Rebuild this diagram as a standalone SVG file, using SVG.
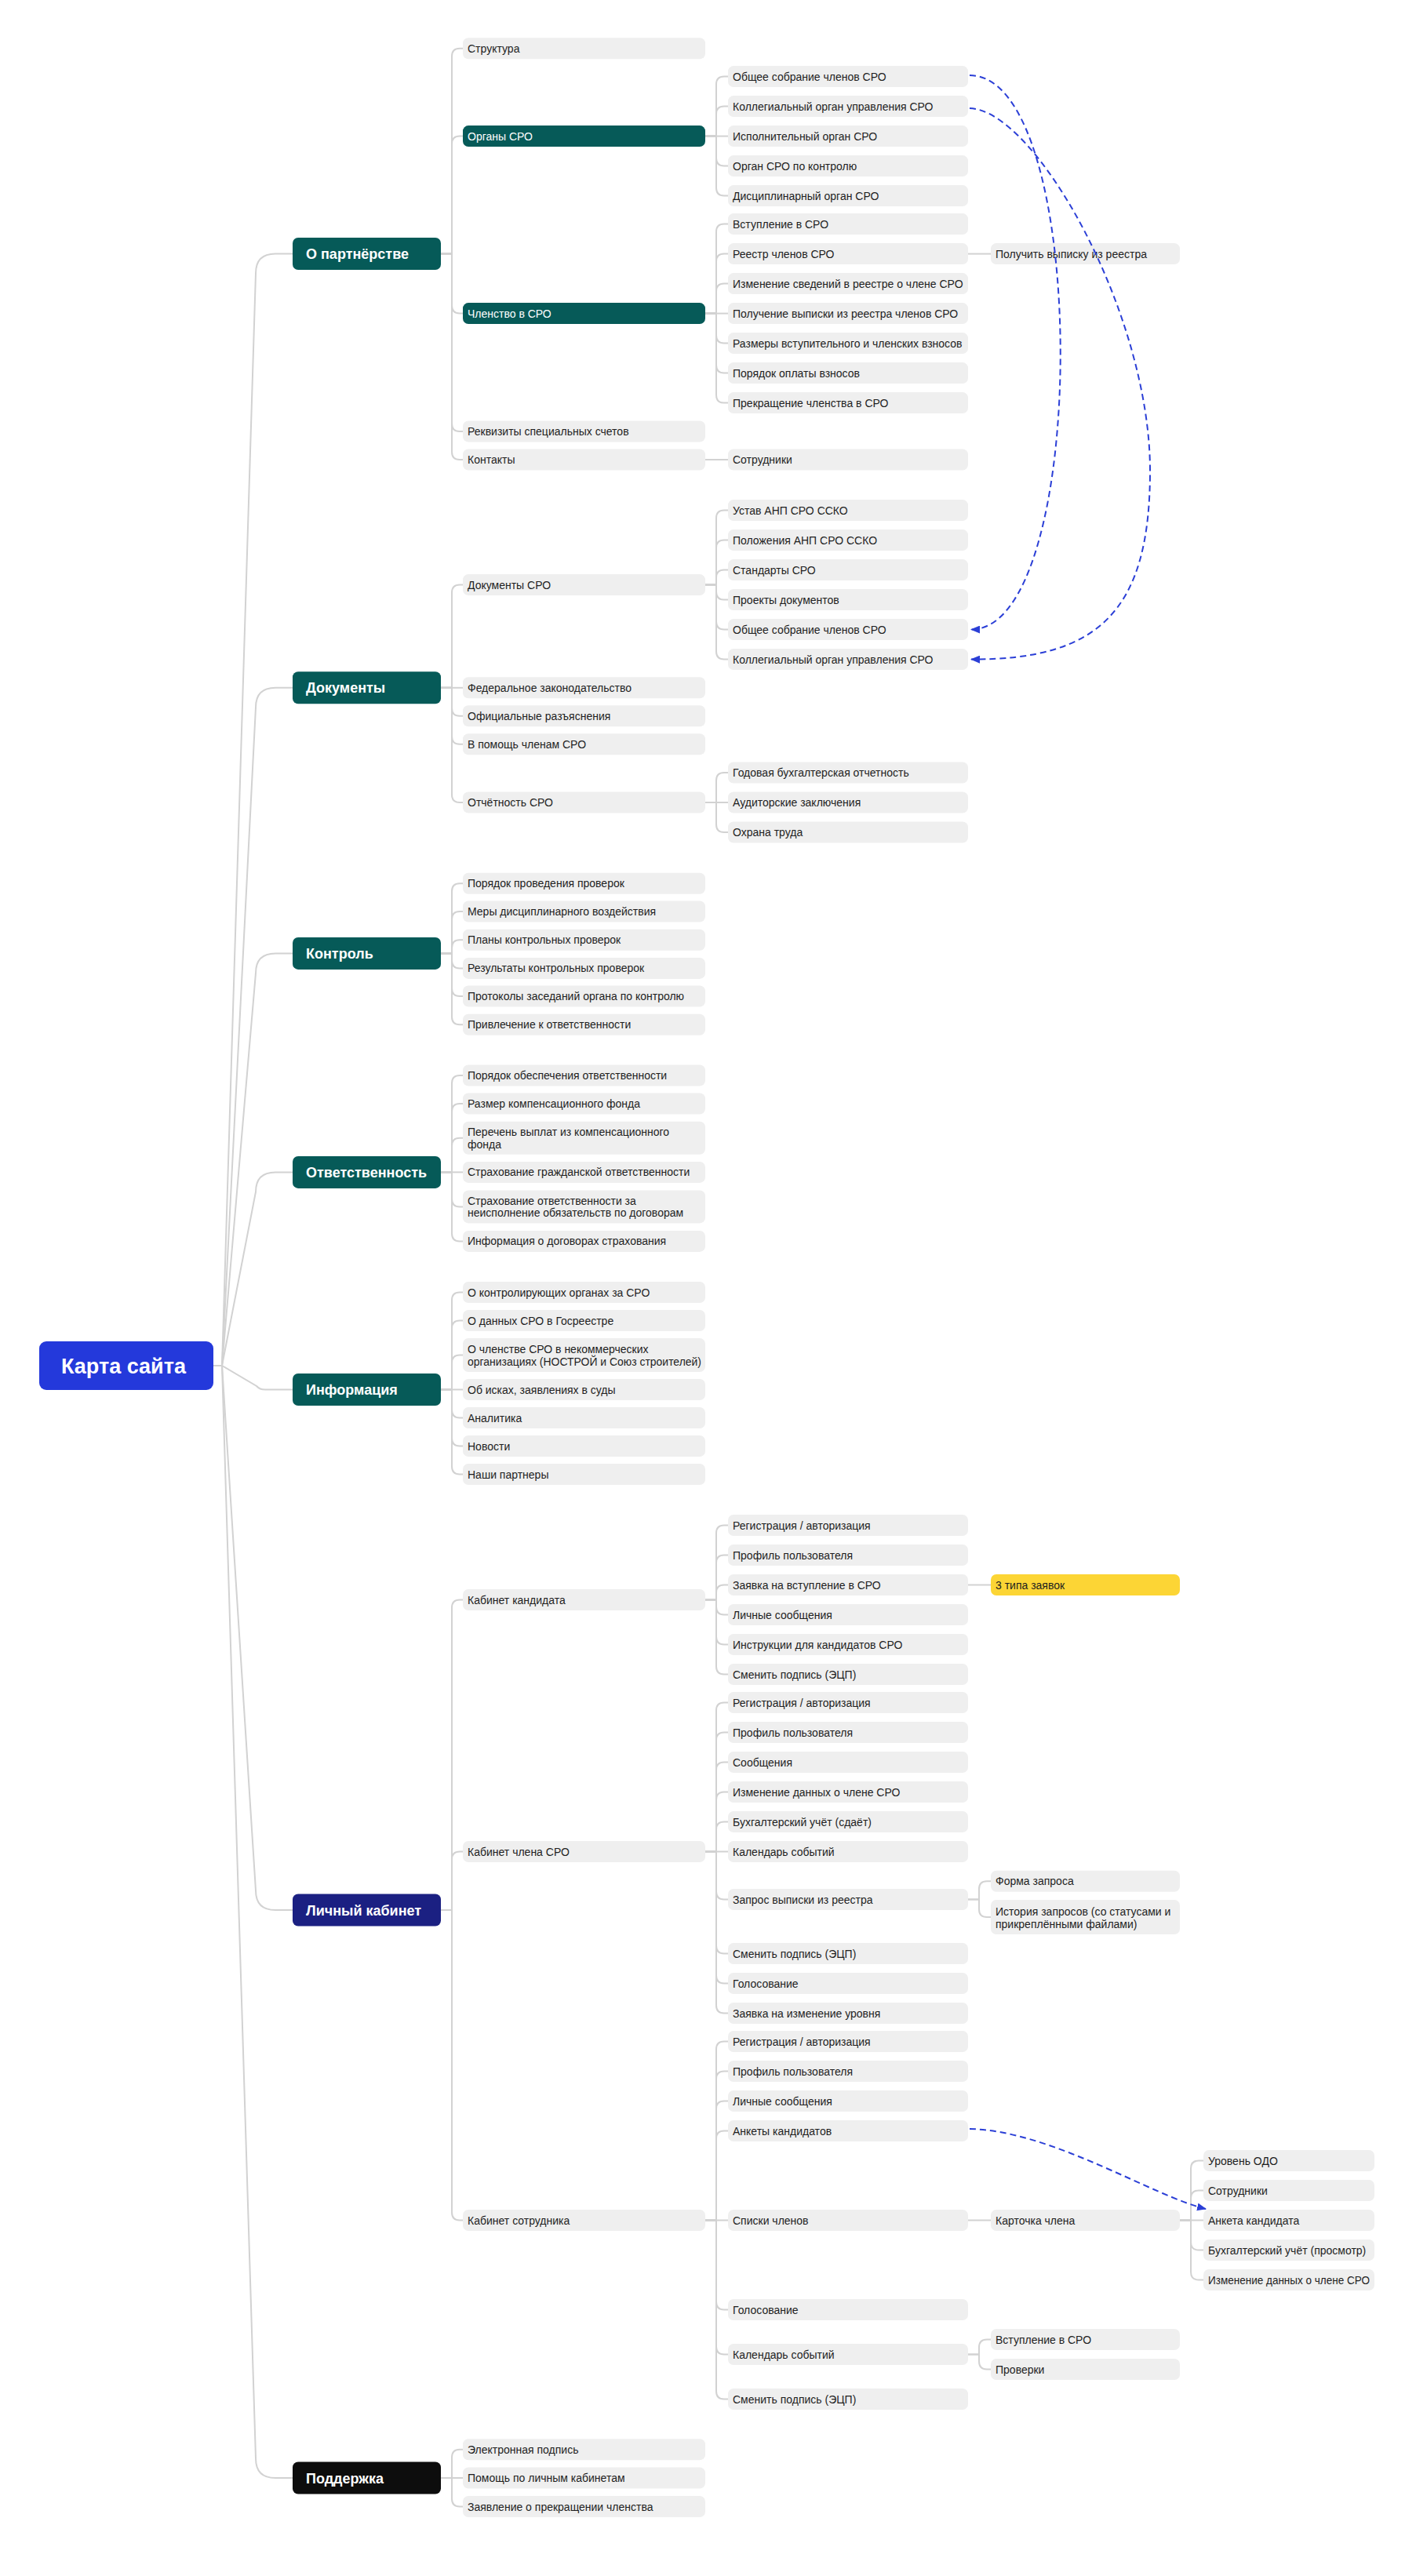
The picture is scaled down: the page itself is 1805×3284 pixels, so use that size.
<svg xmlns="http://www.w3.org/2000/svg" width="1805" height="3284" viewBox="0 0 1805 3284">
<defs>
<style>
.b{fill:#EFEFEF}
.g{fill:#065A58}
.y{fill:#FCD535}
.t{font-family:"Liberation Sans",Arial,sans-serif;font-size:14px;fill:#1E1E1E}
.tw{font-family:"Liberation Sans",Arial,sans-serif;font-size:14px;fill:#FFFFFF}
.h{font-family:"Liberation Sans",Arial,sans-serif;font-size:18px;font-weight:700;fill:#FFFFFF}
.e{fill:none;stroke:#D2D2D2;stroke-width:2}
.d{fill:none;stroke:#2B3FD6;stroke-width:2;stroke-dasharray:8 5}
</style>
<marker id="ah" markerUnits="userSpaceOnUse" markerWidth="12" markerHeight="10" refX="11" refY="5" orient="auto"><path d="M0,0 L12,5 L0,10 z" fill="#2B3FD6"/></marker>
</defs>
<rect width="1805" height="3284" fill="#FFFFFF"/>

<g id="connectors">
<path class="e" d="M272 1741H283L326 348.5Q326 323.5 351 323.5H373"/>
<path class="e" d="M272 1741H283L326 901.8Q326 876.8 351 876.8H373"/>
<path class="e" d="M272 1741H283L326 1240.4Q326 1215.4 351 1215.4H373"/>
<path class="e" d="M272 1741H283L326 1519.4Q326 1494.4 351 1494.4H373"/>
<path class="e" d="M272 1741H283L327 1767Q331 1771.5 338 1771.5H373"/>
<path class="e" d="M272 1741H283L326 2410Q326 2435 351 2435H373"/>
<path class="e" d="M272 1741H283L326 3134Q326 3159 351 3159H373"/>
<path class="e" d="M562 323.5H576V71.7Q576 61.7 586 61.7H590"/>
<path class="e" d="M562 323.5H576V183.6Q576 173.6 586 173.6H590"/>
<path class="e" d="M562 323.5H576V389.6Q576 399.6 586 399.6H590"/>
<path class="e" d="M562 323.5H576V540Q576 550 586 550H590"/>
<path class="e" d="M562 323.5H576V576Q576 586 586 586H590"/>
<path class="e" d="M562 876.8H576V755.6Q576 745.6 586 745.6H590"/>
<path class="e" d="M562 876.8H590"/>
<path class="e" d="M562 876.8H576V902.8Q576 912.8 586 912.8H590"/>
<path class="e" d="M562 876.8H576V938.8Q576 948.8 586 948.8H590"/>
<path class="e" d="M562 876.8H576V1013Q576 1023 586 1023H590"/>
<path class="e" d="M562 1215.4H576V1136.3Q576 1126.3 586 1126.3H590"/>
<path class="e" d="M562 1215.4H576V1172Q576 1162 586 1162H590"/>
<path class="e" d="M562 1215.4H576V1208.2Q576 1198.2 586 1198.2H590"/>
<path class="e" d="M562 1215.4H576V1224.4Q576 1234.4 586 1234.4H590"/>
<path class="e" d="M562 1215.4H576V1260Q576 1270 586 1270H590"/>
<path class="e" d="M562 1215.4H576V1296.2Q576 1306.2 586 1306.2H590"/>
<path class="e" d="M562 1494.4H576V1381Q576 1371 586 1371H590"/>
<path class="e" d="M562 1494.4H576V1417Q576 1407 586 1407H590"/>
<path class="e" d="M562 1494.4H576V1460.7Q576 1450.7 586 1450.7H590"/>
<path class="e" d="M562 1494.4H590"/>
<path class="e" d="M562 1494.4H576V1528.4Q576 1538.4 586 1538.4H590"/>
<path class="e" d="M562 1494.4H576V1572.4Q576 1582.4 586 1582.4H590"/>
<path class="e" d="M562 1771.5H576V1657.5Q576 1647.5 586 1647.5H590"/>
<path class="e" d="M562 1771.5H576V1693.5Q576 1683.5 586 1683.5H590"/>
<path class="e" d="M562 1771.5H576V1737.5Q576 1727.5 586 1727.5H590"/>
<path class="e" d="M562 1771.5H590"/>
<path class="e" d="M562 1771.5H576V1797.5Q576 1807.5 586 1807.5H590"/>
<path class="e" d="M562 1771.5H576V1833.5Q576 1843.5 586 1843.5H590"/>
<path class="e" d="M562 1771.5H576V1869.5Q576 1879.5 586 1879.5H590"/>
<path class="e" d="M562 2435H576V2049.5Q576 2039.5 586 2039.5H590"/>
<path class="e" d="M562 2435H576V2370.5Q576 2360.5 586 2360.5H590"/>
<path class="e" d="M562 2435H576V2820.5Q576 2830.5 586 2830.5H590"/>
<path class="e" d="M562 3159H576V3132.8Q576 3122.8 586 3122.8H590"/>
<path class="e" d="M562 3159H590"/>
<path class="e" d="M562 3159H576V3185.5Q576 3195.5 586 3195.5H590"/>
<path class="e" d="M899 173.6H913V107.6Q913 97.6 923 97.6H928"/>
<path class="e" d="M899 173.6H913V145.6Q913 135.6 923 135.6H928"/>
<path class="e" d="M899 173.6H928"/>
<path class="e" d="M899 173.6H913V201.6Q913 211.6 923 211.6H928"/>
<path class="e" d="M899 173.6H913V239.6Q913 249.6 923 249.6H928"/>
<path class="e" d="M899 399.6H913V295.6Q913 285.6 923 285.6H928"/>
<path class="e" d="M899 399.6H913V333.6Q913 323.6 923 323.6H928"/>
<path class="e" d="M899 399.6H913V371.6Q913 361.6 923 361.6H928"/>
<path class="e" d="M899 399.6H928"/>
<path class="e" d="M899 399.6H913V427.6Q913 437.6 923 437.6H928"/>
<path class="e" d="M899 399.6H913V465.6Q913 475.6 923 475.6H928"/>
<path class="e" d="M899 399.6H913V503.6Q913 513.6 923 513.6H928"/>
<path class="e" d="M899 586H928"/>
<path class="e" d="M899 745.6H913V660.6Q913 650.6 923 650.6H928"/>
<path class="e" d="M899 745.6H913V698.6Q913 688.6 923 688.6H928"/>
<path class="e" d="M899 745.6H913V736.6Q913 726.6 923 726.6H928"/>
<path class="e" d="M899 745.6H913V754.6Q913 764.6 923 764.6H928"/>
<path class="e" d="M899 745.6H913V792.6Q913 802.6 923 802.6H928"/>
<path class="e" d="M899 745.6H913V830.6Q913 840.6 923 840.6H928"/>
<path class="e" d="M899 1023H913V995Q913 985 923 985H928"/>
<path class="e" d="M899 1023H928"/>
<path class="e" d="M899 1023H913V1051Q913 1061 923 1061H928"/>
<path class="e" d="M899 2039.5H913V1954.5Q913 1944.5 923 1944.5H928"/>
<path class="e" d="M899 2039.5H913V1992.5Q913 1982.5 923 1982.5H928"/>
<path class="e" d="M899 2039.5H913V2030.5Q913 2020.5 923 2020.5H928"/>
<path class="e" d="M899 2039.5H913V2048.5Q913 2058.5 923 2058.5H928"/>
<path class="e" d="M899 2039.5H913V2086.5Q913 2096.5 923 2096.5H928"/>
<path class="e" d="M899 2039.5H913V2124.5Q913 2134.5 923 2134.5H928"/>
<path class="e" d="M899 2360.5H913V2180.5Q913 2170.5 923 2170.5H928"/>
<path class="e" d="M899 2360.5H913V2218.5Q913 2208.5 923 2208.5H928"/>
<path class="e" d="M899 2360.5H913V2256.5Q913 2246.5 923 2246.5H928"/>
<path class="e" d="M899 2360.5H913V2294.5Q913 2284.5 923 2284.5H928"/>
<path class="e" d="M899 2360.5H913V2332.5Q913 2322.5 923 2322.5H928"/>
<path class="e" d="M899 2360.5H928"/>
<path class="e" d="M899 2360.5H913V2411.5Q913 2421.5 923 2421.5H928"/>
<path class="e" d="M899 2360.5H913V2480.5Q913 2490.5 923 2490.5H928"/>
<path class="e" d="M899 2360.5H913V2518.5Q913 2528.5 923 2528.5H928"/>
<path class="e" d="M899 2360.5H913V2556.5Q913 2566.5 923 2566.5H928"/>
<path class="e" d="M899 2830.5H913V2612.5Q913 2602.5 923 2602.5H928"/>
<path class="e" d="M899 2830.5H913V2650.5Q913 2640.5 923 2640.5H928"/>
<path class="e" d="M899 2830.5H913V2688.5Q913 2678.5 923 2678.5H928"/>
<path class="e" d="M899 2830.5H913V2726.5Q913 2716.5 923 2716.5H928"/>
<path class="e" d="M899 2830.5H928"/>
<path class="e" d="M899 2830.5H913V2934.5Q913 2944.5 923 2944.5H928"/>
<path class="e" d="M899 2830.5H913V2991.5Q913 3001.5 923 3001.5H928"/>
<path class="e" d="M899 2830.5H913V3048.5Q913 3058.5 923 3058.5H928"/>
<path class="e" d="M1234 323.6H1263"/>
<path class="e" d="M1234 2020.5H1263"/>
<path class="e" d="M1234 2421.5H1248V2408.3Q1248 2398.3 1258 2398.3H1263"/>
<path class="e" d="M1234 2421.5H1248V2434Q1248 2444 1258 2444H1263"/>
<path class="e" d="M1234 2830.5H1263"/>
<path class="e" d="M1234 3001.5H1248V2992.5Q1248 2982.5 1258 2982.5H1263"/>
<path class="e" d="M1234 3001.5H1248V3010.5Q1248 3020.5 1258 3020.5H1263"/>
<path class="e" d="M1504 2830.5H1518V2764.5Q1518 2754.5 1528 2754.5H1534"/>
<path class="e" d="M1504 2830.5H1518V2802.5Q1518 2792.5 1528 2792.5H1534"/>
<path class="e" d="M1504 2830.5H1534"/>
<path class="e" d="M1504 2830.5H1518V2858.5Q1518 2868.5 1528 2868.5H1534"/>
<path class="e" d="M1504 2830.5H1518V2896.5Q1518 2906.5 1528 2906.5H1534"/>
</g>

<g id="n-root"><rect x="50" y="1710" width="222" height="62" rx="9" fill="#2439DB"/><text x="78" y="1750.5" font-family="Liberation Sans, Arial, sans-serif" font-size="27" font-weight="700" fill="#FFFFFF">Карта сайта</text></g>

<g id="n-partnership"><rect class="g" x="373" y="303" width="189" height="41" rx="7"/><text class="h" x="390" y="330">О партнёрстве</text></g>
<g id="n-docs"><rect class="g" x="373" y="856.3" width="189" height="41" rx="7"/><text class="h" x="390" y="883.3">Документы</text></g>
<g id="n-control"><rect class="g" x="373" y="1194.9" width="189" height="41" rx="7"/><text class="h" x="390" y="1221.9">Контроль</text></g>
<g id="n-resp"><rect class="g" x="373" y="1473.9" width="189" height="41" rx="7"/><text class="h" x="390" y="1500.9">Ответственность</text></g>
<g id="n-info"><rect class="g" x="373" y="1751" width="189" height="41" rx="7"/><text class="h" x="390" y="1778">Информация</text></g>
<g id="n-lk"><rect x="373" y="2414.5" width="189" height="41" rx="7" fill="#1B2082"/><text class="h" x="390" y="2441.5">Личный кабинет</text></g>
<g id="n-support"><rect x="373" y="3138.5" width="189" height="41" rx="7" fill="#0D0D0D"/><text class="h" x="390" y="3165.5">Поддержка</text></g>

<g id="n-structure"><rect class="b" x="590" y="48.2" width="309" height="27" rx="7"/><text class="t" x="596" y="66.7">Структура</text></g>
<g id="n-organs"><rect class="g" x="590" y="160.1" width="309" height="27" rx="7"/><text class="tw" x="596" y="178.6">Органы СРО</text></g>
<g id="n-membership"><rect class="g" x="590" y="386.1" width="309" height="27" rx="7"/><text class="tw" x="596" y="404.6">Членство в СРО</text></g>
<g id="n-requisites"><rect class="b" x="590" y="536.5" width="309" height="27" rx="7"/><text class="t" x="596" y="555">Реквизиты специальных счетов</text></g>
<g id="n-contacts"><rect class="b" x="590" y="572.5" width="309" height="27" rx="7"/><text class="t" x="596" y="591">Контакты</text></g>
<g id="n-docs-sro"><rect class="b" x="590" y="732.1" width="309" height="27" rx="7"/><text class="t" x="596" y="750.6">Документы СРО</text></g>
<g id="n-fed"><rect class="b" x="590" y="863.3" width="309" height="27" rx="7"/><text class="t" x="596" y="881.8">Федеральное законодательство</text></g>
<g id="n-official"><rect class="b" x="590" y="899.3" width="309" height="27" rx="7"/><text class="t" x="596" y="917.8">Официальные разъяснения</text></g>
<g id="n-help"><rect class="b" x="590" y="935.3" width="309" height="27" rx="7"/><text class="t" x="596" y="953.8">В помощь членам СРО</text></g>
<g id="n-report"><rect class="b" x="590" y="1009.5" width="309" height="27" rx="7"/><text class="t" x="596" y="1028">Отчётность СРО</text></g>
<g id="n-c1"><rect class="b" x="590" y="1112.8" width="309" height="27" rx="7"/><text class="t" x="596" y="1131.3">Порядок проведения проверок</text></g>
<g id="n-c2"><rect class="b" x="590" y="1148.5" width="309" height="27" rx="7"/><text class="t" x="596" y="1167">Меры дисциплинарного воздействия</text></g>
<g id="n-c3"><rect class="b" x="590" y="1184.7" width="309" height="27" rx="7"/><text class="t" x="596" y="1203.2">Планы контрольных проверок</text></g>
<g id="n-c4"><rect class="b" x="590" y="1220.9" width="309" height="27" rx="7"/><text class="t" x="596" y="1239.4">Результаты контрольных проверок</text></g>
<g id="n-c5"><rect class="b" x="590" y="1256.5" width="309" height="27" rx="7"/><text class="t" x="596" y="1275">Протоколы заседаний органа по контролю</text></g>
<g id="n-c6"><rect class="b" x="590" y="1292.7" width="309" height="27" rx="7"/><text class="t" x="596" y="1311.2">Привлечение к ответственности</text></g>
<g id="n-r1"><rect class="b" x="590" y="1357.5" width="309" height="27" rx="7"/><text class="t" x="596" y="1376">Порядок обеспечения ответственности</text></g>
<g id="n-r2"><rect class="b" x="590" y="1393.5" width="309" height="27" rx="7"/><text class="t" x="596" y="1412">Размер компенсационного фонда</text></g>
<g id="n-r3"><rect class="b" x="590" y="1429.7" width="309" height="42" rx="7"/><text class="t" x="596" y="1447.9">Перечень выплат из компенсационного</text><text class="t" x="596" y="1463.5">фонда</text></g>
<g id="n-r4"><rect class="b" x="590" y="1480.9" width="309" height="27" rx="7"/><text class="t" x="596" y="1499.4">Страхование гражданской ответственности</text></g>
<g id="n-r5"><rect class="b" x="590" y="1517.4" width="309" height="42" rx="7"/><text class="t" x="596" y="1535.6">Страхование ответственности за</text><text class="t" x="596" y="1551.2">неисполнение обязательств по договорам</text></g>
<g id="n-r6"><rect class="b" x="590" y="1568.9" width="309" height="27" rx="7"/><text class="t" x="596" y="1587.4">Информация о договорах страхования</text></g>
<g id="n-i1"><rect class="b" x="590" y="1634" width="309" height="27" rx="7"/><text class="t" x="596" y="1652.5">О контролирующих органах за СРО</text></g>
<g id="n-i2"><rect class="b" x="590" y="1670" width="309" height="27" rx="7"/><text class="t" x="596" y="1688.5">О данных СРО в Госреестре</text></g>
<g id="n-i3"><rect class="b" x="590" y="1706" width="309" height="43" rx="7"/><text class="t" x="596" y="1724.5">О членстве СРО в некоммерческих</text><text class="t" x="596" y="1740.5" textLength="298" lengthAdjust="spacingAndGlyphs">организациях (НОСТРОЙ и Союз строителей)</text></g>
<g id="n-i4"><rect class="b" x="590" y="1758" width="309" height="27" rx="7"/><text class="t" x="596" y="1776.5">Об исках, заявлениях в суды</text></g>
<g id="n-i5"><rect class="b" x="590" y="1794" width="309" height="27" rx="7"/><text class="t" x="596" y="1812.5">Аналитика</text></g>
<g id="n-i6"><rect class="b" x="590" y="1830" width="309" height="27" rx="7"/><text class="t" x="596" y="1848.5">Новости</text></g>
<g id="n-i7"><rect class="b" x="590" y="1866" width="309" height="27" rx="7"/><text class="t" x="596" y="1884.5">Наши партнеры</text></g>
<g id="n-cand"><rect class="b" x="590" y="2026" width="309" height="27" rx="7"/><text class="t" x="596" y="2044.5">Кабинет кандидата</text></g>
<g id="n-member"><rect class="b" x="590" y="2347" width="309" height="27" rx="7"/><text class="t" x="596" y="2365.5">Кабинет члена СРО</text></g>
<g id="n-staff"><rect class="b" x="590" y="2817" width="309" height="27" rx="7"/><text class="t" x="596" y="2835.5">Кабинет сотрудника</text></g>
<g id="n-s1"><rect class="b" x="590" y="3109.3" width="309" height="27" rx="7"/><text class="t" x="596" y="3127.8">Электронная подпись</text></g>
<g id="n-s2"><rect class="b" x="590" y="3145.5" width="309" height="27" rx="7"/><text class="t" x="596" y="3164">Помощь по личным кабинетам</text></g>
<g id="n-s3"><rect class="b" x="590" y="3182" width="309" height="27" rx="7"/><text class="t" x="596" y="3200.5">Заявление о прекращении членства</text></g>

<g id="n-o1"><rect class="b" x="928" y="84.1" width="306" height="27" rx="7"/><text class="t" x="934" y="102.6">Общее собрание членов СРО</text></g>
<g id="n-o2"><rect class="b" x="928" y="122.1" width="306" height="27" rx="7"/><text class="t" x="934" y="140.6">Коллегиальный орган управления СРО</text></g>
<g id="n-o3"><rect class="b" x="928" y="160.1" width="306" height="27" rx="7"/><text class="t" x="934" y="178.6">Исполнительный орган СРО</text></g>
<g id="n-o4"><rect class="b" x="928" y="198.1" width="306" height="27" rx="7"/><text class="t" x="934" y="216.6">Орган СРО по контролю</text></g>
<g id="n-o5"><rect class="b" x="928" y="236.1" width="306" height="27" rx="7"/><text class="t" x="934" y="254.6">Дисциплинарный орган СРО</text></g>
<g id="n-m1"><rect class="b" x="928" y="272.1" width="306" height="27" rx="7"/><text class="t" x="934" y="290.6">Вступление в СРО</text></g>
<g id="n-m2"><rect class="b" x="928" y="310.1" width="306" height="27" rx="7"/><text class="t" x="934" y="328.6">Реестр членов СРО</text></g>
<g id="n-m3"><rect class="b" x="928" y="348.1" width="306" height="27" rx="7"/><text class="t" x="934" y="366.6">Изменение сведений в реестре о члене СРО</text></g>
<g id="n-m4"><rect class="b" x="928" y="386.1" width="306" height="27" rx="7"/><text class="t" x="934" y="404.6">Получение выписки из реестра членов СРО</text></g>
<g id="n-m5"><rect class="b" x="928" y="424.1" width="306" height="27" rx="7"/><text class="t" x="934" y="442.6">Размеры вступительного и членских взносов</text></g>
<g id="n-m6"><rect class="b" x="928" y="462.1" width="306" height="27" rx="7"/><text class="t" x="934" y="480.6">Порядок оплаты взносов</text></g>
<g id="n-m7"><rect class="b" x="928" y="500.1" width="306" height="27" rx="7"/><text class="t" x="934" y="518.6">Прекращение членства в СРО</text></g>
<g id="n-staff1"><rect class="b" x="928" y="572.5" width="306" height="27" rx="7"/><text class="t" x="934" y="591">Сотрудники</text></g>
<g id="n-d1"><rect class="b" x="928" y="637.1" width="306" height="27" rx="7"/><text class="t" x="934" y="655.6">Устав АНП СРО ССКО</text></g>
<g id="n-d2"><rect class="b" x="928" y="675.1" width="306" height="27" rx="7"/><text class="t" x="934" y="693.6">Положения АНП СРО ССКО</text></g>
<g id="n-d3"><rect class="b" x="928" y="713.1" width="306" height="27" rx="7"/><text class="t" x="934" y="731.6">Стандарты СРО</text></g>
<g id="n-d4"><rect class="b" x="928" y="751.1" width="306" height="27" rx="7"/><text class="t" x="934" y="769.6">Проекты документов</text></g>
<g id="n-d5"><rect class="b" x="928" y="789.1" width="306" height="27" rx="7"/><text class="t" x="934" y="807.6">Общее собрание членов СРО</text></g>
<g id="n-d6"><rect class="b" x="928" y="827.1" width="306" height="27" rx="7"/><text class="t" x="934" y="845.6">Коллегиальный орган управления СРО</text></g>
<g id="n-rep1"><rect class="b" x="928" y="971.5" width="306" height="27" rx="7"/><text class="t" x="934" y="990">Годовая бухгалтерская отчетность</text></g>
<g id="n-rep2"><rect class="b" x="928" y="1009.5" width="306" height="27" rx="7"/><text class="t" x="934" y="1028">Аудиторские заключения</text></g>
<g id="n-rep3"><rect class="b" x="928" y="1047.5" width="306" height="27" rx="7"/><text class="t" x="934" y="1066">Охрана труда</text></g>
<g id="n-k1"><rect class="b" x="928" y="1931" width="306" height="27" rx="7"/><text class="t" x="934" y="1949.5">Регистрация / авторизация</text></g>
<g id="n-k2"><rect class="b" x="928" y="1969" width="306" height="27" rx="7"/><text class="t" x="934" y="1987.5">Профиль пользователя</text></g>
<g id="n-k3"><rect class="b" x="928" y="2007" width="306" height="27" rx="7"/><text class="t" x="934" y="2025.5">Заявка на вступление в СРО</text></g>
<g id="n-k4"><rect class="b" x="928" y="2045" width="306" height="27" rx="7"/><text class="t" x="934" y="2063.5">Личные сообщения</text></g>
<g id="n-k5"><rect class="b" x="928" y="2083" width="306" height="27" rx="7"/><text class="t" x="934" y="2101.5">Инструкции для кандидатов СРО</text></g>
<g id="n-k6"><rect class="b" x="928" y="2121" width="306" height="27" rx="7"/><text class="t" x="934" y="2139.5">Сменить подпись (ЭЦП)</text></g>
<g id="n-u1"><rect class="b" x="928" y="2157" width="306" height="27" rx="7"/><text class="t" x="934" y="2175.5">Регистрация / авторизация</text></g>
<g id="n-u2"><rect class="b" x="928" y="2195" width="306" height="27" rx="7"/><text class="t" x="934" y="2213.5">Профиль пользователя</text></g>
<g id="n-u3"><rect class="b" x="928" y="2233" width="306" height="27" rx="7"/><text class="t" x="934" y="2251.5">Сообщения</text></g>
<g id="n-u4"><rect class="b" x="928" y="2271" width="306" height="27" rx="7"/><text class="t" x="934" y="2289.5">Изменение данных о члене СРО</text></g>
<g id="n-u5"><rect class="b" x="928" y="2309" width="306" height="27" rx="7"/><text class="t" x="934" y="2327.5">Бухгалтерский учёт (сдаёт)</text></g>
<g id="n-u6"><rect class="b" x="928" y="2347" width="306" height="27" rx="7"/><text class="t" x="934" y="2365.5">Календарь событий</text></g>
<g id="n-u7"><rect class="b" x="928" y="2408" width="306" height="27" rx="7"/><text class="t" x="934" y="2426.5">Запрос выписки из реестра</text></g>
<g id="n-u8"><rect class="b" x="928" y="2477" width="306" height="27" rx="7"/><text class="t" x="934" y="2495.5">Сменить подпись (ЭЦП)</text></g>
<g id="n-u9"><rect class="b" x="928" y="2515" width="306" height="27" rx="7"/><text class="t" x="934" y="2533.5">Голосование</text></g>
<g id="n-u10"><rect class="b" x="928" y="2553" width="306" height="27" rx="7"/><text class="t" x="934" y="2571.5">Заявка на изменение уровня</text></g>
<g id="n-w1"><rect class="b" x="928" y="2589" width="306" height="27" rx="7"/><text class="t" x="934" y="2607.5">Регистрация / авторизация</text></g>
<g id="n-w2"><rect class="b" x="928" y="2627" width="306" height="27" rx="7"/><text class="t" x="934" y="2645.5">Профиль пользователя</text></g>
<g id="n-w3"><rect class="b" x="928" y="2665" width="306" height="27" rx="7"/><text class="t" x="934" y="2683.5">Личные сообщения</text></g>
<g id="n-w4"><rect class="b" x="928" y="2703" width="306" height="27" rx="7"/><text class="t" x="934" y="2721.5">Анкеты кандидатов</text></g>
<g id="n-w5"><rect class="b" x="928" y="2817" width="306" height="27" rx="7"/><text class="t" x="934" y="2835.5">Списки членов</text></g>
<g id="n-w6"><rect class="b" x="928" y="2931" width="306" height="27" rx="7"/><text class="t" x="934" y="2949.5">Голосование</text></g>
<g id="n-w7"><rect class="b" x="928" y="2988" width="306" height="27" rx="7"/><text class="t" x="934" y="3006.5">Календарь событий</text></g>
<g id="n-w8"><rect class="b" x="928" y="3045" width="306" height="27" rx="7"/><text class="t" x="934" y="3063.5">Сменить подпись (ЭЦП)</text></g>

<g id="n-getext"><rect class="b" x="1263" y="310.1" width="241" height="27" rx="7"/><text class="t" x="1269" y="328.6">Получить выписку из реестра</text></g>
<g id="n-3types"><rect class="y" x="1263" y="2007" width="241" height="27" rx="7"/><text class="t" x="1269" y="2025.5">3 типа заявок</text></g>
<g id="n-form"><rect class="b" x="1263" y="2384.8" width="241" height="27" rx="7"/><text class="t" x="1269" y="2403.3">Форма запроса</text></g>
<g id="n-history"><rect class="b" x="1263" y="2422" width="241" height="44" rx="7"/><text class="t" x="1269" y="2441.5">История запросов (со статусами и</text><text class="t" x="1269" y="2457.5">прикреплёнными файлами)</text></g>
<g id="n-card"><rect class="b" x="1263" y="2817" width="241" height="27" rx="7"/><text class="t" x="1269" y="2835.5">Карточка члена</text></g>
<g id="n-ev1"><rect class="b" x="1263" y="2969" width="241" height="27" rx="7"/><text class="t" x="1269" y="2987.5">Вступление в СРО</text></g>
<g id="n-ev2"><rect class="b" x="1263" y="3007" width="241" height="27" rx="7"/><text class="t" x="1269" y="3025.5">Проверки</text></g>

<g id="n-p1"><rect class="b" x="1534" y="2741" width="218" height="27" rx="7"/><text class="t" x="1540" y="2759.5">Уровень ОДО</text></g>
<g id="n-p2"><rect class="b" x="1534" y="2779" width="218" height="27" rx="7"/><text class="t" x="1540" y="2797.5">Сотрудники</text></g>
<g id="n-p3"><rect class="b" x="1534" y="2817" width="218" height="27" rx="7"/><text class="t" x="1540" y="2835.5">Анкета кандидата</text></g>
<g id="n-p4"><rect class="b" x="1534" y="2855" width="218" height="27" rx="7"/><text class="t" x="1540" y="2873.5">Бухгалтерский учёт (просмотр)</text></g>
<g id="n-p5"><rect class="b" x="1534" y="2893" width="218" height="27" rx="7"/><text class="t" x="1540" y="2911.5" textLength="206" lengthAdjust="spacingAndGlyphs">Изменение данных о члене СРО</text></g>

<g id="links">
<path class="d" marker-end="url(#ah)" d="M1236 96C1390 96 1390 802 1238 802.6"/>
<path class="d" marker-end="url(#ah)" d="M1236 138C1320 140 1466 400 1466 600C1466 780 1400 841 1238 840.6"/>
<path class="d" marker-end="url(#ah)" d="M1236 2714C1340 2716 1470 2800 1537 2816"/>
</g>
</svg>
